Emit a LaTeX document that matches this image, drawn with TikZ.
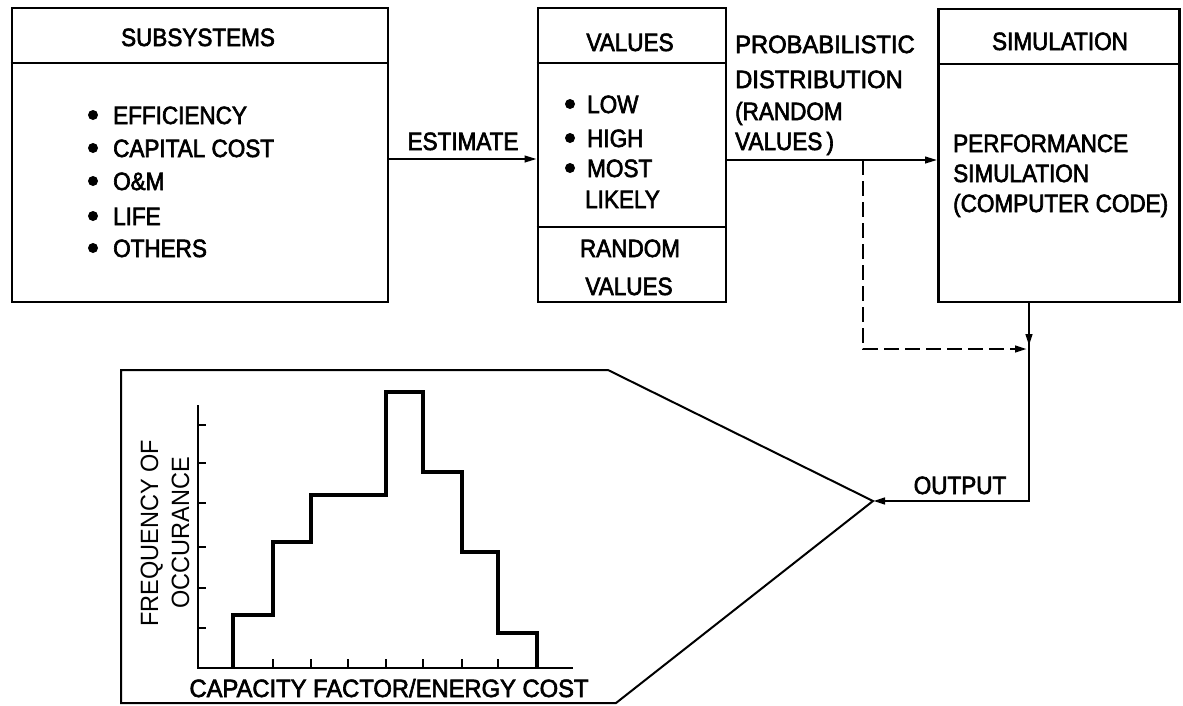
\documentclass[tikz,border=0pt]{standalone}
\usepackage{fontspec}
\setmainfont{Liberation Sans}[FakeStretch=0.9,FakeBold=2.5]
\newfontfamily\axfont{Liberation Sans}[FakeStretch=0.94]
\newfontfamily\widefont{Liberation Sans}[FakeStretch=0.95,FakeBold=2.5]
\usetikzlibrary{arrows.meta}
\begin{document}
\begin{tikzpicture}[x=1pt,y=-1pt,
  box/.style={draw,line width=2.6pt,inner sep=0pt},
  divline/.style={line width=2pt},
  txt/.style={font=\fontsize{25}{30}\selectfont,inner sep=0pt,anchor=base},
  ltxt/.style={txt,anchor=base west},
  dot/.style={fill=black,draw=none},
  arr/.style={line width=2.1pt,-{Triangle[length=12pt,width=6.5pt]}},
  dasharr/.style={arr,line width=2.5pt,dash pattern=on 15pt off 6pt},
  hist/.style={line width=3.4pt,line join=miter},
  axis/.style={line width=2.6pt},
  tick/.style={line width=1.3pt},
  callout/.style={line width=2pt,line join=miter}]
\useasboundingbox (0,0) rectangle (1183,705);

% boxes
\node[box,minimum width=376pt,minimum height=294pt] (sub) at (200,155) {};
\node[box,minimum width=188pt,minimum height=294pt] (val) at (632,155) {};
\node[box,minimum width=241pt,minimum height=293pt] (sim) at (1059,155.5) {};

% dividers
\draw[divline] ([yshift=-56pt]sub.north west) -- ([yshift=-56pt]sub.north east);
\draw[divline] ([yshift=-56pt]val.north west) -- ([yshift=-56pt]val.north east);
\draw[divline] ([yshift=-220pt]val.north west) -- ([yshift=-220pt]val.north east);
\draw[divline] ([yshift=-56pt]sim.north west) -- ([yshift=-56pt]sim.north east);

% subsystems text
\node[txt] (subh) at (198,46) {SUBSYSTEMS};
\foreach \yy/\name/\t in {124/s1/EFFICIENCY,157/s2/CAPITAL COST,190/s3/O\&M,225/s4/LIFE,257/s5/OTHERS}{
  \fill[dot] (93,\yy-9) circle (5pt);
  \node[ltxt] (\name) at (113,\yy) {\t};
}

% values text
\node[txt] (valh) at (630,51) {VALUES};
\foreach \yy/\name/\t in {113/v1/LOW,147/v2/HIGH,177/v3/MOST}{
  \fill[dot] (570,\yy-9) circle (5pt);
  \node[ltxt] (\name) at (587,\yy) {\t};
}
\node[ltxt] (v4) at (585,208) {LIKELY};
\node[txt] (v5) at (630,257) {RANDOM};
\node[txt] (v6) at (629,295) {VALUES};

% simulation text
\node[txt] (simh) at (1060,50) {SIMULATION};
\node[ltxt] (p1) at (953,152) {PERFORMANCE};
\node[ltxt] (p2) at (953,182) {SIMULATION};
\node[ltxt] (p3) at (953,212) {(COMPUTER CODE)};

% probabilistic label
\node[ltxt,font=\widefont\fontsize{25}{30}\selectfont] (q1) at (735,53) {PROBABILISTIC};
\node[ltxt,font=\widefont\fontsize{25}{30}\selectfont] (q2) at (735,88) {DISTRIBUTION};
\node[ltxt] (q3) at (735,120) {(RANDOM};
\node[ltxt] (q4) at (735,150) {VALUES\,)};

% connectors
\draw[arr] ([yshift=-4pt]sub.east) -- ([yshift=-4pt]val.west) node[midway,above=9pt,txt,anchor=base] (est) {ESTIMATE};
\draw[arr] ([yshift=-5pt]val.east) -- ([yshift=-4.5pt]sim.west);
\coordinate (dj) at (863,160);
\coordinate (dk) at (1027,349);
\draw[dasharr] (dj) |- (dk);
\coordinate (so) at (1029,302);
\coordinate (sm) at (1029,346);
\coordinate (tip) at (873,501);
\draw[arr,line width=2.6pt] (so) -- (sm);
\draw[arr,line width=2.6pt] (1029,340) |- (tip);
\node[txt] (out) at (960,494) {OUTPUT};

% callout
\draw[callout] (121,370) -- (608,370) -- (tip) -- (616,703) -- (121,703) -- cycle;

% axes
\draw[axis] (198,405) -- (198,668) -- (573,668);
\foreach \yy in {425,463,503,547,588,628} \draw[tick] (198,\yy) -- (206,\yy);
\foreach \xx in {273,311,348,386,423,462,498} \draw[tick] (\xx,668) -- (\xx,659);

% histogram
\draw[hist] (233,668) -- (233,615) -- (273,615) -- (273,542) -- (311,542) -- (311,495)
  -- (386,495) -- (386,392) -- (423,392) -- (423,472) -- (462,472) -- (462,552)
  -- (498,552) -- (498,633) -- (537,633) -- (537,668);

% axis labels
\node[inner sep=0pt,rotate=90,align=center,font=\axfont\fontsize{25}{31}\selectfont] (ylab) at (165,533) {FREQUENCY OF\\OCCURANCE};
\node[txt,font=\widefont\fontsize{25}{30}\selectfont] (xlab) at (389,697) {CAPACITY FACTOR/ENERGY COST};
\end{tikzpicture}
\end{document}
